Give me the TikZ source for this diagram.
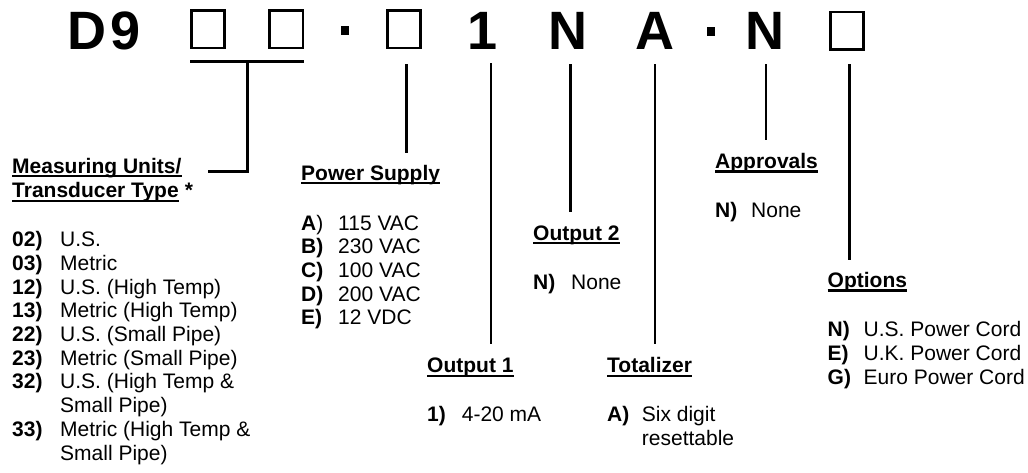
\documentclass[tikz,border=0pt]{standalone}
\usepackage{fontspec}
\setmainfont{Liberation Sans}
\newcommand{\lbl}[2]{\makebox[#1][l]{\textbf{#2}}}
\begin{document}
\begin{tikzpicture}[x=1pt,y=-1pt,
  bigch/.style={inner sep=0pt,anchor=base,font=\fontsize{54}{60}\selectfont\bfseries},
  sqbox/.style={draw,line width=2.7pt,minimum width=33.3pt,minimum height=37.3pt,inner sep=0pt},
  sqdot/.style={fill,minimum width=8.3pt,minimum height=9pt,inner sep=0pt},
  conn/.style={line width=2.5pt},
  txt/.style={inner sep=0pt,anchor=base west,font=\fontsize{21}{24}\selectfont},
  hd/.style={txt,font=\fontsize{21}{24}\selectfont\bfseries},
  uline/.style={line width=2.3pt}]
\useasboundingbox (0,0) rectangle (1028,472);

% top code row
\node[bigch] (cD) at (86.7,49.5) {D};
\node[bigch] (c9) at (125.5,49.5) {9};
\node[sqbox] (b1) at (208,29.3) {};
\node[sqbox] (b2) at (286.2,29.3) {};
\node[sqdot] (d1) at (345.2,30.5) {};
\node[sqbox] (b3) at (403.9,29.3) {};
\node[bigch] (c1) at (483,49.5) {1};
\node[bigch] (cN1) at (568,49.5) {N};
\node[bigch] (cA) at (654.5,49.5) {A};
\node[sqdot] (d2) at (711.2,31) {};
\node[bigch] (cN2) at (765,49.5) {N};
\node[sqbox] (b4) at (847,30.5) {};

% headings
\node[hd] (hm1) at (12,173) {Measuring Units/};
\node[hd] (hm2) at (12,197.7) {Transducer Type};
\node[hd] (hstar) at ([xshift=5.8pt]hm2.base east) {*};
\node[hd] (hps) at (301,180) {Power Supply};
\node[hd] (ho1) at (427,372.7) {Output 1};
\node[hd] (ho2) at (533,240) {Output 2};
\node[hd] (hto) at (607,372.7) {Totalizer};
\node[hd] (hap) at (715,168.3) {Approvals};
\node[hd] (hop) at (827.5,287.3) {Options};
\foreach \h in {hm1,hm2,hps,ho1,ho2,hto,hap,hop}{
  \draw[uline] ([yshift=-3.2pt]\h.base west) -- ([yshift=-3.2pt]\h.base east);
}

% measuring units list
\node[txt] (m1) at (12,246.7) {\lbl{48pt}{02)}U.S.};
\node[txt] (m2) at (12,270.4) {\lbl{48pt}{03)}Metric};
\node[txt] (m3) at (12,294.1) {\lbl{48pt}{12)}U.S. (High Temp)};
\node[txt] (m4) at (12,317.8) {\lbl{48pt}{13)}Metric (High Temp)};
\node[txt] (m5) at (12,341.5) {\lbl{48pt}{22)}U.S. (Small Pipe)};
\node[txt] (m6) at (12,365.2) {\lbl{48pt}{23)}Metric (Small Pipe)};
\node[txt] (m7) at (12,388.9) {\lbl{48pt}{32)}U.S. (High Temp \&};
\node[txt] (m7b) at (60,412.6) {Small Pipe)};
\node[txt] (m8) at (12,436.3) {\lbl{48pt}{33)}Metric (High Temp \&};
\node[txt] (m8b) at (60,460) {Small Pipe)};

% power supply list
\node[txt] (p1) at (301,230) {\makebox[37pt][l]{\textbf{A})}115 VAC};
\node[txt] (p2) at (301,253.7) {\lbl{37pt}{B)}230 VAC};
\node[txt] (p3) at (301,277.4) {\lbl{37pt}{C)}100 VAC};
\node[txt] (p4) at (301,301.1) {\lbl{37pt}{D)}200 VAC};
\node[txt] (p5) at (301,324.8) {\lbl{37pt}{E)}12 VDC};

% other lists
\node[txt] (o1) at (427,421.7) {\lbl{34.7pt}{1)}4-20 mA};
\node[txt] (o2) at (533,289) {\lbl{38pt}{N)}None};
\node[txt] (t1) at (607,421.7) {\lbl{34.7pt}{A)}Six digit};
\node[txt] (t2) at (641.7,445.4) {resettable};
\node[txt] (a1) at (715,217.3) {\lbl{36pt}{N)}None};
\node[txt] (op1) at (827.5,336.7) {\lbl{36pt}{N)}U.S. Power Cord};
\node[txt] (op2) at (827.5,360.4) {\lbl{36pt}{E)}U.K. Power Cord};
\node[txt] (op3) at (827.5,384.1) {\lbl{36pt}{G)}Euro Power Cord};

% connector points
\coordinate (brL) at (190,61.7);
\coordinate (brR) at (303.5,61.7);
\coordinate (brM) at (247.5,61.7);
\coordinate (brK) at (247.5,171.7);
\coordinate (brE) at (208,171.7);
\coordinate (psT) at (406.7,64);
\coordinate (psB) at (406.7,153);
\coordinate (o1T) at (491,63);
\coordinate (o1B) at (491,344);
\coordinate (o2T) at (570.7,64);
\coordinate (o2B) at (570.7,212);
\coordinate (toT) at (655,64);
\coordinate (toB) at (655,344);
\coordinate (apT) at (766,64);
\coordinate (apB) at (766,140);
\coordinate (opT) at (849.5,64);
\coordinate (opB) at (849.5,260);

\draw[conn] (brL) -- (brR);
\draw[conn] (brM) -- (brK) -- (brE);
\draw[conn] (psT) -- (psB);
\draw[conn] (o1T) -- (o1B);
\draw[conn] (o2T) -- (o2B);
\draw[conn] (toT) -- (toB);
\draw[conn] (apT) -- (apB);
\draw[conn] (opT) -- (opB);
\end{tikzpicture}
\end{document}
